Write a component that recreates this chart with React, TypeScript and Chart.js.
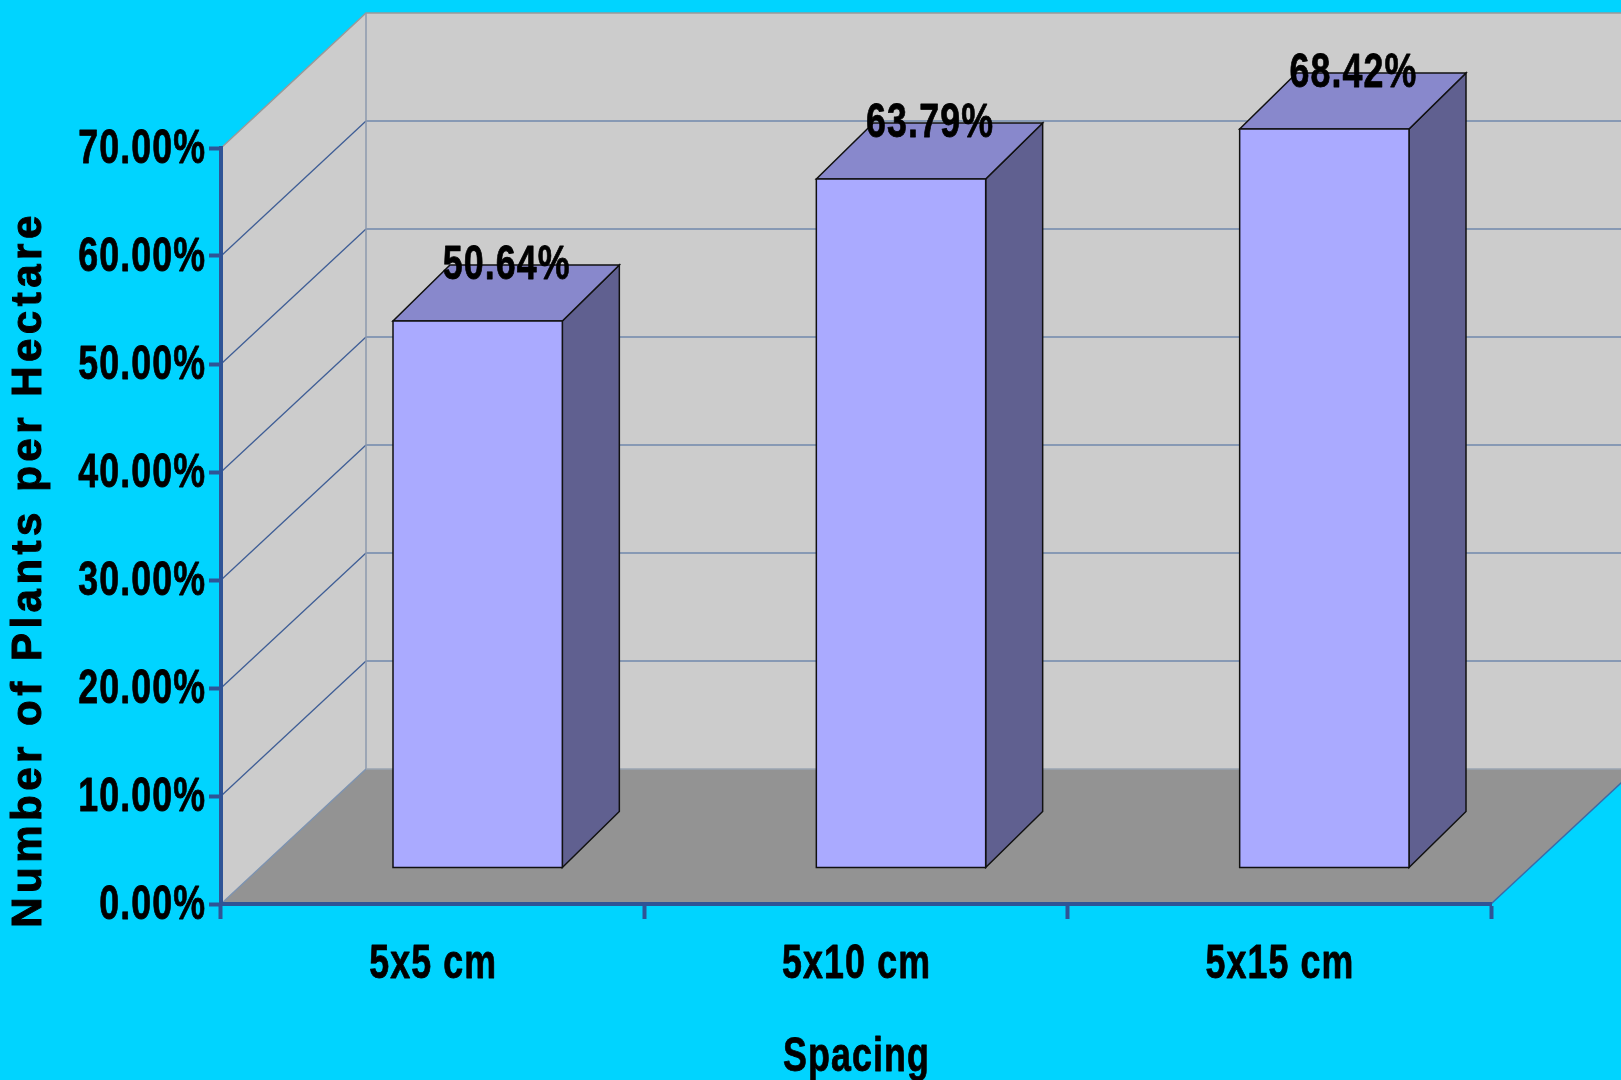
import React, { useEffect, useRef } from 'react';
import { Chart, registerables } from 'chart.js';

Chart.register(...registerables);

// ---- data ----
const categories = ['5x5 cm', '5x10 cm', '5x15 cm'];
const percentValues = [0.5064, 0.6379, 0.6842];
const yMin = 0;
const yMax = 0.7;
const yStep = 0.1;
const yAxisTitle = 'Number of Plants per Hectare';
const xAxisTitle = 'Spacing';

// ---- styling ----
const W = 1621;
const H = 1080;
const BG = '#00D4FF';
const FONT = "'Liberation Sans', Arial, sans-serif";
const NARROW_SIZE = 48;
const NARROW_SX = 0.745;
const CAP = 0.716;
const AXIS_COLOR = '#2F5496';
const WALL = '#CCCCCC';
const FLOOR = '#939393';
const DEPTH = { x: 145, y: -135 };
const BAR_SHIFT = { x: 45, y: -36 };
const BAR_DEPTH = { x: 57, y: -56 };
const BAR_FRONT = '#AAAAFF';
const BAR_TOP = '#8888CC';
const BAR_SIDE = '#606090';

const fmt = (v: number) => (v * 100).toFixed(2) + '%';

function poly(ctx: CanvasRenderingContext2D, pts: number[][], fill?: string, stroke?: string, lw = 1) {
  ctx.beginPath();
  ctx.moveTo(pts[0][0], pts[0][1]);
  for (let i = 1; i < pts.length; i++) ctx.lineTo(pts[i][0], pts[i][1]);
  ctx.closePath();
  if (fill) {
    ctx.fillStyle = fill;
    ctx.fill();
  }
  if (stroke) {
    ctx.strokeStyle = stroke;
    ctx.lineWidth = lw;
    ctx.lineJoin = 'miter';
    ctx.stroke();
  }
}

function line(ctx: CanvasRenderingContext2D, pts: number[][], color: string, lw = 1) {
  ctx.beginPath();
  ctx.moveTo(pts[0][0], pts[0][1]);
  for (let i = 1; i < pts.length; i++) ctx.lineTo(pts[i][0], pts[i][1]);
  ctx.strokeStyle = color;
  ctx.lineWidth = lw;
  ctx.stroke();
}

// condensed bold text: drawn horizontally compressed, slightly emboldened
function narrowText(
  ctx: CanvasRenderingContext2D,
  text: string,
  x: number,
  capCenterY: number,
  align: CanvasTextAlign
) {
  ctx.save();
  ctx.font = `bold ${NARROW_SIZE}px ${FONT}`;
  (ctx as any).letterSpacing = '1.5px';
  ctx.fillStyle = '#000000';
  ctx.strokeStyle = '#000000';
  ctx.lineWidth = 0.8;
  ctx.lineJoin = 'round';
  ctx.textAlign = align;
  ctx.textBaseline = 'alphabetic';
  ctx.translate(x, capCenterY + (NARROW_SIZE * CAP) / 2);
  ctx.scale(NARROW_SX, 1);
  const shift = align === 'center' ? 0.75 : align === 'right' ? 1.5 : 0;
  ctx.fillText(text, shift, 0);
  ctx.strokeText(text, shift, 0);
  ctx.restore();
}

const box3dPlugin = {
  id: 'box3d',
  beforeDraw(chart: any) {
    const { ctx, chartArea } = chart;
    const ys = chart.scales.y;
    const x0 = chartArea.left;
    const x1 = chartArea.right;
    const yb = ys.getPixelForValue(yMin);
    const yt = ys.getPixelForValue(yMax);
    const dx = DEPTH.x;
    const dy = DEPTH.y;
    ctx.save();
    ctx.fillStyle = BG;
    ctx.fillRect(0, 0, chart.width, chart.height);
    poly(ctx, [[x0, yb], [x0, yt], [x0 + dx, yt + dy], [x0 + dx, yb + dy]], WALL);
    poly(ctx, [[x0 + dx, yt + dy], [x1 + dx, yt + dy], [x1 + dx, yb + dy], [x0 + dx, yb + dy]], WALL);
    poly(ctx, [[x0, yb], [x1, yb], [x1 + dx, yb + dy], [x0 + dx, yb + dy]], FLOOR);
    ys.ticks.forEach((t: any) => {
      const v = t.value;
      if (v <= yMin || v >= yMax) return;
      const y = ys.getPixelForValue(v);
      line(ctx, [[x0, y], [x0 + dx, y + dy]], '#3F5E96', 1.3);
      line(ctx, [[x0 + dx, y + dy], [x1 + dx, y + dy]], '#7088AC', 1.5);
    });
    line(ctx, [[x0, yt], [x0 + dx, yt + dy], [x1 + dx, yt + dy]], '#999999', 1.5);
    line(ctx, [[x0 + dx, yt + dy], [x0 + dx, yb + dy]], '#8C9AAE', 1.5);
    line(ctx, [[x0, yb], [x0 + dx, yb + dy]], '#7F93B0', 1.5);
    line(ctx, [[x0 + dx, yb + dy], [x1 + dx, yb + dy]], '#9AA4B2', 1.5);
    line(ctx, [[x1, yb], [x1 + dx, yb + dy]], '#3A6AA8', 1.5);
    ctx.restore();
  },
  afterDatasetsDraw(chart: any) {
    const { ctx } = chart;
    const meta = chart.getDatasetMeta(0);
    const data = chart.data.datasets[0].data as number[];
    ctx.save();
    meta.data.forEach((el: any, i: number) => {
      const p = el.getProps(['x', 'y', 'base', 'width'], true);
      const l = p.x - p.width / 2 + BAR_SHIFT.x;
      const r = p.x + p.width / 2 + BAR_SHIFT.x;
      const top = p.y + BAR_SHIFT.y;
      const bot = p.base + BAR_SHIFT.y;
      const ddx = BAR_DEPTH.x;
      const ddy = BAR_DEPTH.y;
      poly(ctx, [[r, top], [r + ddx, top + ddy], [r + ddx, bot + ddy], [r, bot]], BAR_SIDE, '#111111', 1.5);
      poly(ctx, [[l, top], [r, top], [r + ddx, top + ddy], [l + ddx, top + ddy]], BAR_TOP, '#111111', 1.5);
      poly(ctx, [[l, top], [r, top], [r, bot], [l, bot]], BAR_FRONT, '#111111', 1.5);
      const baseline = top + ddy + 13.5;
      narrowText(ctx, fmt(data[i]), (l + r) / 2 + ddx / 2, baseline - (NARROW_SIZE * CAP) / 2, 'center');
    });
    ctx.restore();
  },
  afterDraw(chart: any) {
    const { ctx, chartArea } = chart;
    const ys = chart.scales.y;
    const xs = chart.scales.x;
    ys.ticks.forEach((t: any) => {
      narrowText(ctx, t.label, ys.right - 16, ys.getPixelForValue(t.value) - 2, 'right');
    });
    xs.ticks.forEach((t: any, i: number) => {
      narrowText(ctx, String(t.label), xs.getPixelForTick(i), 960.5, 'center');
    });
    narrowText(ctx, xAxisTitle, (chartArea.left + chartArea.right) / 2, 1054, 'center');
    ctx.save();
    ctx.translate(29, 569.5);
    ctx.rotate(-Math.PI / 2);
    ctx.font = `bold 42px ${FONT}`;
    (ctx as any).letterSpacing = '4.5px';
    ctx.fillStyle = '#000000';
    ctx.strokeStyle = '#000000';
    ctx.lineWidth = 1;
    ctx.textAlign = 'center';
    ctx.textBaseline = 'middle';
    ctx.fillText(yAxisTitle, 0, 0);
    ctx.strokeText(yAxisTitle, 0, 0);
    ctx.restore();
  },
};

export default function App() {
  const canvasRef = useRef<HTMLCanvasElement | null>(null);

  useEffect(() => {
    document.body.style.margin = '0';
    const canvas = canvasRef.current;
    if (!canvas) return;
    const chart = new Chart(canvas, {
      type: 'bar',
      data: {
        labels: categories,
        datasets: [
          {
            label: 'Number of Plants per Hectare',
            data: percentValues,
            backgroundColor: 'rgba(0,0,0,0)',
            borderWidth: 0,
            barPercentage: 0.4,
            categoryPercentage: 1,
          },
        ],
      },
      options: {
        animation: false,
        responsive: false,
        devicePixelRatio: 1,
        layout: { padding: { left: 0, top: 148, right: 130, bottom: 0 } },
        plugins: {
          legend: { display: false },
          tooltip: { enabled: false },
          title: { display: false },
        },
        scales: {
          x: {
            type: 'category',
            afterFit: (scale: any) => {
              scale.height = 176;
            },
            grid: {
              offset: true,
              drawOnChartArea: false,
              drawTicks: true,
              tickLength: 15,
              tickWidth: 4,
              tickColor: AXIS_COLOR,
            },
            border: { display: true, color: AXIS_COLOR, width: 4 },
            ticks: { display: false },
            title: { display: false, text: xAxisTitle },
          },
          y: {
            type: 'linear',
            min: yMin,
            max: yMax,
            afterFit: (scale: any) => {
              scale.width = 221;
            },
            grid: {
              drawOnChartArea: false,
              drawTicks: true,
              tickLength: 12,
              tickWidth: 4,
              tickColor: AXIS_COLOR,
            },
            border: { display: true, color: AXIS_COLOR, width: 4 },
            ticks: {
              display: false,
              stepSize: yStep,
              callback: (v: any) => fmt(Number(v)),
            },
          },
        },
      },
      plugins: [box3dPlugin],
    } as any);
    return () => chart.destroy();
  }, []);

  return (
    <div style={{ width: W, height: H, background: BG, position: 'relative', overflow: 'hidden' }}>
      <canvas ref={canvasRef} width={W} height={H} style={{ width: W, height: H, display: 'block' }} />
    </div>
  );
}
